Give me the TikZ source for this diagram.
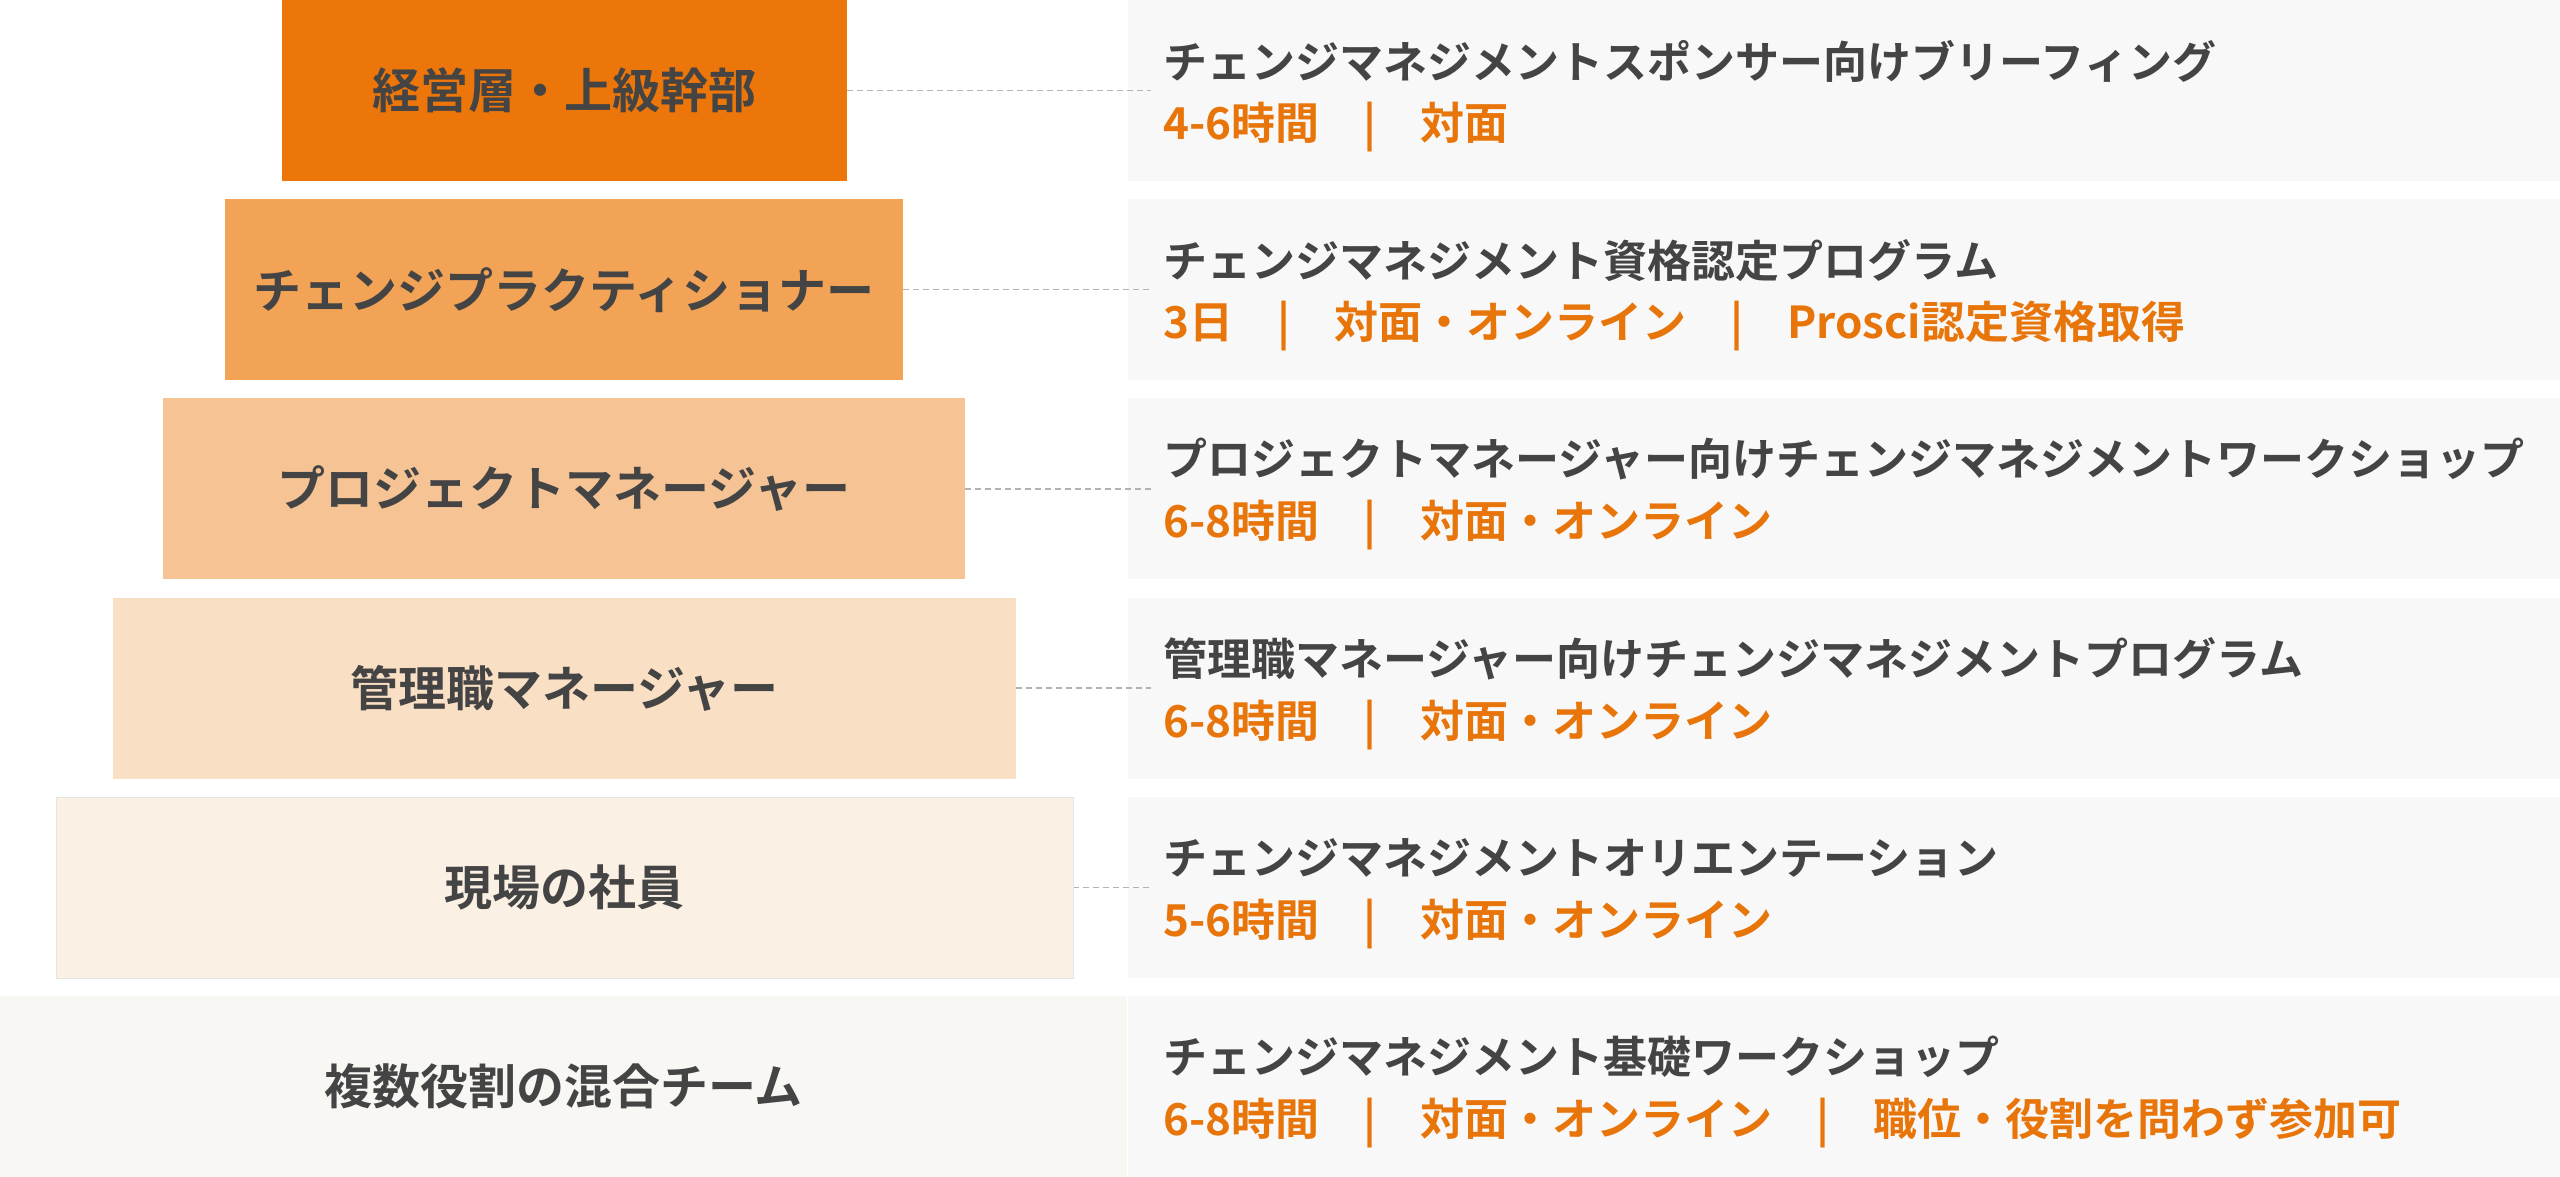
\documentclass[tikz,border=0pt]{standalone}
\usepackage{fontspec}
\setmainfont{Noto Sans CJK JP}[BoldFont={* Bold}]
\definecolor{c1}{HTML}{EC760A}
\definecolor{c2}{HTML}{F2A356}
\definecolor{c3}{HTML}{F6C494}
\definecolor{c4}{HTML}{F9DFC4}
\definecolor{c5}{HTML}{FBF0E4}
\definecolor{c6}{HTML}{F8F7F4}
\definecolor{panel}{HTML}{F8F8F8}
\definecolor{txt}{HTML}{444444}
\definecolor{org}{HTML}{E8750A}
\begin{document}
\begin{tikzpicture}[x=1pt,y=-1pt,
  lvl/.style={font=\fontsize{48}{56}\selectfont\bfseries, text=txt},
  ttl/.style={anchor=west, font=\fontsize{44}{52}\selectfont\bfseries, text=txt},
  sub/.style={anchor=west, font=\fontsize{44}{52}\selectfont\bfseries, text=org},
  conn/.style={draw=black!30, dash pattern=on 6pt off 4pt, line width=1.3pt}]
\useasboundingbox (0,0) rectangle (2560,1177);
\newcommand\sep{\hspace{1.0em}|\hspace{1.0em}}
\foreach \i/\xa/\xb/\col/\lab/\t/\s in {
 0/282/847/c1/経営層・上級幹部/チェンジマネジメントスポンサー向けブリーフィング/{4-6時間\sep 対面},
 1/225/903/c2/チェンジプラクティショナー/チェンジマネジメント資格認定プログラム/{3日\sep 対面・オンライン\sep Prosci認定資格取得},
 2/163/965/c3/プロジェクトマネージャー/プロジェクトマネージャー向けチェンジマネジメントワークショップ/{6-8時間\sep 対面・オンライン},
 3/113/1016/c4/管理職マネージャー/管理職マネージャー向けチェンジマネジメントプログラム/{6-8時間\sep 対面・オンライン},
 4/56/1073/c5/現場の社員/チェンジマネジメントオリエンテーション/{5-6時間\sep 対面・オンライン},
 5/0/1127/c6/複数役割の混合チーム/チェンジマネジメント基礎ワークショップ/{6-8時間\sep 対面・オンライン\sep 職位・役割を問わず参加可}}{
  \pgfmathsetmacro\ya{\i*199.2}
  \pgfmathsetmacro\yb{\ya+181}
  \pgfmathsetmacro\ym{\ya+90.5}
  \fill[panel] (1128,\ya) rectangle (2560,\yb);
  \fill[\col] (\xa,\ya) rectangle (\xb,\yb);
  \node[lvl] (l\i) at ({(\xa+\xb)/2},\ym) {\lab};
  \ifnum\i<5
  \coordinate (e\i) at (\xb,\ym);
  \coordinate (f\i) at (1151,\ym);
  \draw[conn] (e\i) -- (f\i);
  \fi
  \node[ttl] (t\i) at (1160,\ya+61) {\t};
  \node[sub] (s\i) at (1160,\ya+127) {\s};
}
\draw[black!10] (56,796.8) rectangle (1073,977.8);
\end{tikzpicture}
\end{document}
